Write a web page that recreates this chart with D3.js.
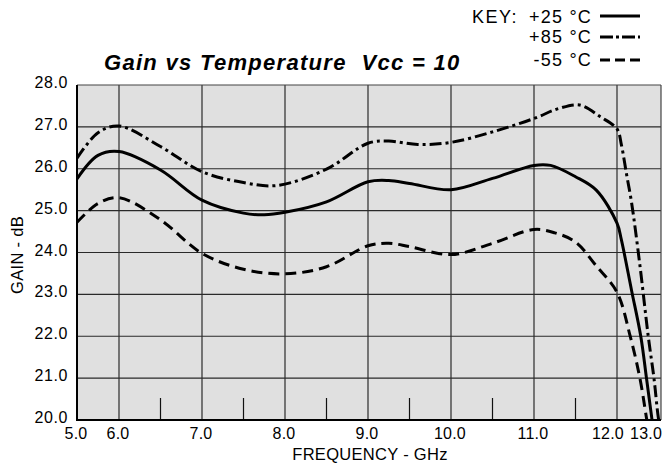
<!DOCTYPE html>
<html>
<head>
<meta charset="utf-8">
<script src="https://cdn.jsdelivr.net/npm/d3@7"></script>
<style>
  html, body { margin: 0; padding: 0; background: #fff; }
  svg { display: block; }
  text { font-family: "Liberation Sans", Arial, Helvetica, sans-serif; fill: #000; }
</style>
</head>
<body>
<svg id="chart" width="671" height="466"></svg>
<script>
// ---- data ----
const xTickValues = [5, 6, 7, 8, 9, 10, 11, 12, 13];
const xTickLabels = ["5.0", "6.0", "7.0", "8.0", "9.0", "10.0", "11.0", "12.0", "13.0"];
const xMinorTicks = [6.5, 7.5, 8.5, 9.5, 10.5, 11.5];
const yTickValues = [20, 21, 22, 23, 24, 25, 26, 27, 28];
const yTickLabels = ["20.0", "21.0", "22.0", "23.0", "24.0", "25.0", "26.0", "27.0", "28.0"];

const seriesNames = ["+25 °C", "+85 °C", "-55 °C"];

const freq25 = [5.0, 5.5, 6.0, 6.5, 7.0, 7.5, 7.75, 8.0, 8.5, 9.0, 9.25, 9.5, 10.0, 10.5, 11.0, 11.2, 11.5, 11.75, 12.0, 12.1, 12.33, 12.54, 12.67, 12.79, 12.9];
const gain25 = [25.76, 26.32, 26.41, 25.97, 25.25, 24.94, 24.90, 24.96, 25.21, 25.69, 25.72, 25.65, 25.50, 25.77, 26.08, 26.08, 25.81, 25.49, 24.70, 24.30, 23.10, 22.0, 21.0, 20.05, 19.2];

const freq85 = [5.0, 5.5, 6.0, 6.5, 7.0, 7.5, 7.9, 8.5, 9.0, 9.25, 9.6, 10.0, 10.5, 11.0, 11.3, 11.55, 11.8, 12.0, 12.1, 12.22, 12.33, 12.52, 12.71, 12.84, 12.94, 13.05];
const gain85 = [26.25, 26.86, 27.02, 26.53, 25.93, 25.67, 25.60, 25.99, 26.61, 26.66, 26.58, 26.63, 26.88, 27.20, 27.44, 27.52, 27.24, 26.95, 26.57, 25.85, 25.20, 23.70, 22.0, 21.0, 20.05, 19.4];

const freqM55 = [5.0, 5.5, 6.0, 6.5, 7.0, 7.5, 8.0, 8.5, 9.0, 9.25, 9.5, 10.0, 10.5, 11.0, 11.25, 11.5, 11.75, 12.0, 12.3, 12.52, 12.67, 12.8];
const gainM55 = [24.72, 25.17, 25.31, 24.78, 23.98, 23.60, 23.49, 23.66, 24.16, 24.22, 24.14, 23.95, 24.22, 24.55, 24.47, 24.25, 23.68, 23.05, 22.0, 21.0, 20.05, 19.2];

// ---- layout ----
const svg = d3.select("#chart");
const L = 77, R = 661, T = 85, B = 420;

// The printed axis compresses the 5-6 and 12-13 GHz segments
const x = d3.scaleLinear().domain([5, 6, 12, 13]).range([L, 119, 617, R]);
const y = d3.scaleLinear().domain([20, 28]).range([B, T]);

// background
svg.append("rect").attr("x", L).attr("y", T).attr("width", R - L).attr("height", B - T)
  .attr("fill", "#e0e0e0");

// grid
const g = svg.append("g");
g.selectAll(".vg").data(xTickValues.slice(1, -1)).enter().append("line")
  .attr("x1", d => x(d)).attr("x2", d => x(d)).attr("y1", T).attr("y2", B)
  .attr("stroke", "#2a2a2a").attr("stroke-width", 1.2);
g.selectAll(".hg").data(yTickValues.slice(1, -1)).enter().append("line")
  .attr("x1", L).attr("x2", R).attr("y1", d => y(d)).attr("y2", d => y(d))
  .attr("stroke", "#2a2a2a").attr("stroke-width", 1.2);
g.selectAll(".mt").data(xMinorTicks).enter().append("line")
  .attr("x1", d => x(d)).attr("x2", d => x(d)).attr("y1", B - 22).attr("y2", B)
  .attr("stroke", "#111").attr("stroke-width", 1.2);

// frame: top and right thin, left and bottom heavy
svg.append("line").attr("x1", L).attr("x2", R).attr("y1", T).attr("y2", T).attr("stroke", "#444").attr("stroke-width", 1.2);
svg.append("line").attr("x1", R).attr("x2", R).attr("y1", T).attr("y2", B).attr("stroke", "#444").attr("stroke-width", 1.2);

// curves
svg.append("clipPath").attr("id", "clip").append("rect")
  .attr("x", L).attr("y", T).attr("width", R - L).attr("height", B - T);

const line = d3.line().x(d => x(d[0])).y(d => y(d[1])).curve(d3.curveCatmullRom.alpha(0.5));
const series = [
  { f: freq25, v: gain25, dash: null },
  { f: freq85, v: gain85, dash: "12,4,3,4" },
  { f: freqM55, v: gainM55, dash: "11,6" }
];
const cg = svg.append("g").attr("clip-path", "url(#clip)");
series.forEach(s => {
  cg.append("path").datum(s.f.map((f, i) => [f, s.v[i]]))
    .attr("d", line).attr("fill", "none").attr("stroke", "#000")
    .attr("stroke-width", 3).attr("stroke-dasharray", s.dash);
});

svg.append("line").attr("x1", L).attr("x2", L).attr("y1", T).attr("y2", B + 1).attr("stroke", "#000").attr("stroke-width", 2);
svg.append("line").attr("x1", L - 1).attr("x2", R).attr("y1", B).attr("y2", B).attr("stroke", "#000").attr("stroke-width", 2);

// axis labels
svg.selectAll(".yl").data(yTickValues).enter().append("text")
  .attr("x", 68).attr("y", d => y(d) + 3)
  .attr("text-anchor", "end").attr("font-size", 16).attr("letter-spacing", 0.6)
  .text((d, i) => yTickLabels[i]);

const xLabelShift = { 12: -8 };
svg.selectAll(".xl").data(xTickValues).enter().append("text")
  .attr("x", d => d === 13 ? R + 1 : x(d) + (xLabelShift[d] || 0) - 1)
  .attr("y", 439)
  .attr("text-anchor", d => d === 13 ? "end" : "middle")
  .attr("font-size", 16).attr("letter-spacing", 0.2)
  .text((d, i) => xTickLabels[i]);

svg.append("text").attr("x", 370).attr("y", 460).attr("text-anchor", "middle")
  .attr("font-size", 16.5).attr("letter-spacing", 0.3).text("FREQUENCY - GHz");
svg.append("text").attr("transform", "translate(23,255) rotate(-90)").attr("text-anchor", "middle")
  .attr("font-size", 16.5).attr("letter-spacing", 0.3).text("GAIN - dB");

// title
svg.append("text").attr("x", 104).attr("y", 70).attr("font-size", 22)
  .attr("font-weight", "bold").attr("font-style", "italic").attr("letter-spacing", 1.3)
  .attr("xml:space", "preserve").style("white-space", "pre")
  .text("Gain vs Temperature  Vcc = 10");

// legend
svg.append("text").attr("x", 472).attr("y", 22.5).attr("font-size", 18).attr("letter-spacing", 1.5).text("KEY:");
const legY = [16, 37, 60];
const legTextY = [22.5, 43, 66];
const legDash = [null, "13,3,3,3", "10,5"];
seriesNames.forEach((n, i) => {
  svg.append("text").attr("x", 592).attr("y", legTextY[i]).attr("text-anchor", "end")
    .attr("font-size", 18).attr("letter-spacing", 1.2)
    .attr("xml:space", "preserve").style("white-space", "pre").text(n);
  svg.append("line").attr("x1", 600).attr("x2", 640).attr("y1", legY[i]).attr("y2", legY[i])
    .attr("stroke", "#000").attr("stroke-width", 3).attr("stroke-dasharray", legDash[i]);
});
</script>
</body>
</html>
